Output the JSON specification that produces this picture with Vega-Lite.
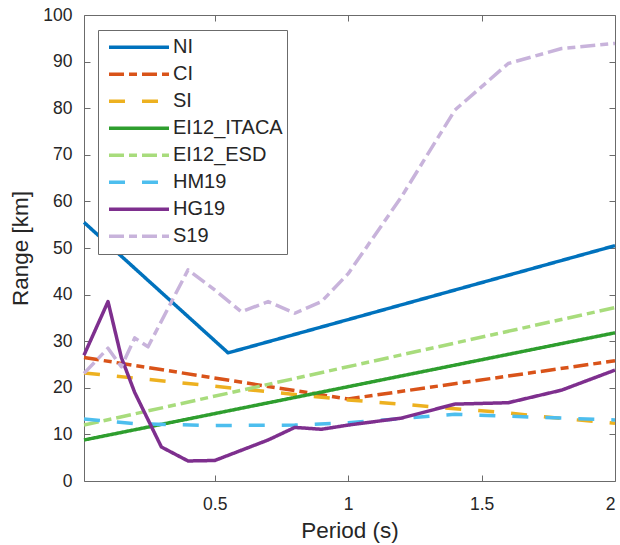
{
  "$schema": "https://vega.github.io/schema/vega-lite/v6.json",
  "width": 531,
  "height": 466,
  "autosize": "none",
  "padding": {"left": 84, "top": 15, "right": 5, "bottom": 64},
  "background": "white",
  "config": {
    "view": {"stroke": "#6b6b6b", "strokeWidth": 1},
    "font": "Liberation Sans",
    "axis": {
      "grid": false,
      "domain": false,
      "tickColor": "#6b6b6b",
      "tickSize": -6,
      "labelFontSize": 17.5,
      "labelColor": "#262626",
      "titleFontSize": 22.5,
      "titleColor": "#262626",
      "titleFontWeight": "normal"
    }
  },
  "data": {
    "values": [
      {"series": "NI", "period": 0.01, "range": 55.5},
      {"series": "NI", "period": 0.55, "range": 27.5},
      {"series": "NI", "period": 2.0, "range": 50.5},

      {"series": "CI", "period": 0.01, "range": 26.5},
      {"series": "CI", "period": 1.0, "range": 17.6},
      {"series": "CI", "period": 2.0, "range": 25.8},

      {"series": "SI", "period": 0.01, "range": 23.2},
      {"series": "SI", "period": 1.0, "range": 17.4},
      {"series": "SI", "period": 1.2, "range": 16.5},
      {"series": "SI", "period": 1.4, "range": 15.5},
      {"series": "SI", "period": 1.6, "range": 14.6},
      {"series": "SI", "period": 1.8, "range": 13.4},
      {"series": "SI", "period": 2.0, "range": 12.4},

      {"series": "EI12_ITACA", "period": 0.01, "range": 8.8},
      {"series": "EI12_ITACA", "period": 2.0, "range": 31.8},

      {"series": "EI12_ESD", "period": 0.01, "range": 12.0},
      {"series": "EI12_ESD", "period": 2.0, "range": 37.2},

      {"series": "HM19", "period": 0.01, "range": 13.3},
      {"series": "HM19", "period": 0.2, "range": 12.3},
      {"series": "HM19", "period": 0.5, "range": 11.9},
      {"series": "HM19", "period": 0.8, "range": 12.0},
      {"series": "HM19", "period": 1.0, "range": 12.5},
      {"series": "HM19", "period": 1.4, "range": 14.3},
      {"series": "HM19", "period": 1.6, "range": 13.9},
      {"series": "HM19", "period": 2.0, "range": 13.1},

      {"series": "HG19", "period": 0.01, "range": 27.0},
      {"series": "HG19", "period": 0.1, "range": 38.5},
      {"series": "HG19", "period": 0.15, "range": 26.5},
      {"series": "HG19", "period": 0.2, "range": 19.0},
      {"series": "HG19", "period": 0.3, "range": 7.3},
      {"series": "HG19", "period": 0.4, "range": 4.3},
      {"series": "HG19", "period": 0.5, "range": 4.4},
      {"series": "HG19", "period": 0.6, "range": 6.6},
      {"series": "HG19", "period": 0.7, "range": 8.8},
      {"series": "HG19", "period": 0.8, "range": 11.5},
      {"series": "HG19", "period": 0.9, "range": 11.1},
      {"series": "HG19", "period": 1.0, "range": 12.0},
      {"series": "HG19", "period": 1.2, "range": 13.5},
      {"series": "HG19", "period": 1.4, "range": 16.5},
      {"series": "HG19", "period": 1.6, "range": 16.8},
      {"series": "HG19", "period": 1.8, "range": 19.5},
      {"series": "HG19", "period": 2.0, "range": 23.8},

      {"series": "S19", "period": 0.01, "range": 23.1},
      {"series": "S19", "period": 0.1, "range": 28.5},
      {"series": "S19", "period": 0.15, "range": 24.5},
      {"series": "S19", "period": 0.2, "range": 30.7},
      {"series": "S19", "period": 0.25, "range": 28.8},
      {"series": "S19", "period": 0.4, "range": 45.3},
      {"series": "S19", "period": 0.5, "range": 41.0},
      {"series": "S19", "period": 0.6, "range": 36.3},
      {"series": "S19", "period": 0.7, "range": 38.5},
      {"series": "S19", "period": 0.8, "range": 36.0},
      {"series": "S19", "period": 0.9, "range": 38.5},
      {"series": "S19", "period": 1.0, "range": 44.5},
      {"series": "S19", "period": 1.2, "range": 61.0},
      {"series": "S19", "period": 1.4, "range": 79.6},
      {"series": "S19", "period": 1.6, "range": 89.6},
      {"series": "S19", "period": 1.8, "range": 92.8},
      {"series": "S19", "period": 2.0, "range": 93.9}
    ]
  },
  "layer": [
    {
      "mark": {"type": "line", "strokeWidth": 3.5, "strokeCap": "butt", "strokeJoin": "round"},
      "encoding": {
        "x": {
          "field": "period",
          "type": "quantitative",
          "scale": {"domain": [0.01, 2], "nice": false, "zero": false},
          "axis": {"values": [0.5, 1, 1.5, 2], "format": "~g", "title": "Period (s)", "labelPadding": 20, "titlePadding": 7}
        },
        "y": {
          "field": "range",
          "type": "quantitative",
          "scale": {"domain": [0, 100], "nice": false},
          "axis": {"values": [0, 10, 20, 30, 40, 50, 60, 70, 80, 90, 100], "title": "Range [km]", "labelPadding": 18, "titlePadding": 10}
        },
        "color": {
          "field": "series",
          "type": "nominal",
          "scale": {
            "domain": ["NI", "CI", "SI", "EI12_ITACA", "EI12_ESD", "HM19", "HG19", "S19"],
            "range": ["#0072BD", "#D95319", "#EDB120", "#2E9E2E", "#A8DC7C", "#4DBEEE", "#7E2F8E", "#C8B3DB"]
          },
          "legend": {
            "orient": "none",
            "legendX": 14,
            "legendY": 15,
            "title": null,
            "symbolType": "stroke",
            "symbolSize": 3600,
            "symbolStrokeWidth": 3.5,
            "symbolOffset": 5,
            "clipHeight": 26.3,
            "rowPadding": 0,
            "labelFont": "Liberation Sans",
            "labelFontSize": 20,
            "labelColor": "#262626",
            "labelOffset": 2,
            "labelLimit": 300,
            "padding": 4,
            "strokeColor": "#6b6b6b",
            "fillColor": "white"
          }
        },
        "strokeDash": {
          "field": "series",
          "type": "nominal",
          "scale": {
            "domain": ["NI", "CI", "SI", "EI12_ITACA", "EI12_ESD", "HM19", "HG19", "S19"],
            "range": [[1, 0], [15, 5, 8, 5], [16, 17], [1, 0], [15, 5, 8, 5], [16, 17], [1, 0], [15, 5, 8, 5]]
          }
        }
      }
    },
    {
      "mark": {"type": "point", "opacity": 0},
      "encoding": {
        "x": {
          "field": "period",
          "type": "quantitative",
          "scale": {"domain": [0.01, 2], "nice": false, "zero": false},
          "axis": {"orient": "top", "values": [0.5, 1, 1.5, 2], "labels": false, "title": null}
        },
        "y": {
          "field": "range",
          "type": "quantitative",
          "scale": {"domain": [0, 100], "nice": false},
          "axis": {"orient": "right", "values": [10, 20, 30, 40, 50, 60, 70, 80, 90], "labels": false, "title": null}
        }
      }
    }
  ],
  "resolve": {"axis": {"x": "independent", "y": "independent"}}
}
